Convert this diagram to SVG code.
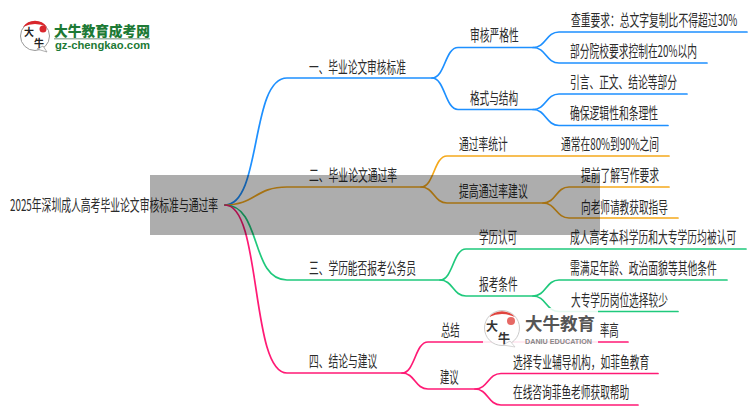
<svg xmlns="http://www.w3.org/2000/svg" width="750" height="410" viewBox="0 0 750 410">
<defs><style>
text{font-family:"Noto Sans CJK SC","Noto Sans",sans-serif;font-size:15.5px;fill:#2b2b2b}
.c{fill:none;stroke-width:1.7;stroke-linecap:round}
.b{stroke:#1e90ff}.o{stroke:#f5a91c}.g{stroke:#1fc97c}.p{stroke:#ff1a75}
</style></defs>
<rect width="750" height="410" fill="#fff"/>
<g id="connectors">
<path class="c b" d="M225 205C262 205 250 78 287 78H432C445 78 445 47.500 458 47.500H533C546 47.500 546 32 559 32H747"/>
<path class="c b" d="M533 47.500C546 47.500 546 63 559 63H707"/>
<path class="c b" d="M432 78C445 78 445 109.500 458 109.500H533C546 109.500 546 94 559 94H687"/>
<path class="c b" d="M533 109.500C546 109.500 546 125.500 559 125.500H668"/>
<path class="c o" d="M225 205C255 205 255 187 287 187H421C434 187 434 156 447 156H669"/>
<path class="c o" d="M421 187C434 187 434 203 447 203H543C556 203 556 187 569 187H669"/>
<path class="c o" d="M543 203C556 203 556 218 569 218H678"/>
<path class="c g" d="M225 205C262 205 250 280 287 280H440C453 280 453 249 466 249H746"/>
<path class="c g" d="M440 280C453 280 453 296 466 296H533C546 296 546 280 559 280H727"/>
<path class="c g" d="M533 296C546 296 546 311.500 559 311.500H678"/>
<path class="c p" d="M225 205C262 205 250 373 287 373H402C415 373 415 342 428 342H628"/>
<path class="c p" d="M402 373C415 373 415 389 428 389H475C488 389 488 373.500 501 373.500H658"/>
<path class="c p" d="M475 389C488 389 488 405 501 405H638"/>
</g>
<g id="root"><text transform="matrix(.625 0 0 1 10 210.500)" textLength="333" lengthAdjust="spacingAndGlyphs">2025年深圳成人高考毕业论文审核标准与通过率</text></g>
<g id="n1"><text transform="matrix(.625 0 0 1 309 72.500)" textLength="155" lengthAdjust="spacingAndGlyphs">一、毕业论文审核标准</text></g>
<g id="n1a"><text transform="matrix(.625 0 0 1 470 40.500)" textLength="78" lengthAdjust="spacingAndGlyphs">审核严格性</text></g>
<g id="n1a1"><text transform="matrix(.625 0 0 1 571 25.500)" textLength="266" lengthAdjust="spacingAndGlyphs">查重要求：总文字复制比不得超过30%</text></g>
<g id="n1a2"><text transform="matrix(.625 0 0 1 570 56.500)" textLength="203" lengthAdjust="spacingAndGlyphs">部分院校要求控制在20%以内</text></g>
<g id="n1b"><text transform="matrix(.625 0 0 1 470 103.500)" textLength="77" lengthAdjust="spacingAndGlyphs">格式与结构</text></g>
<g id="n1b1"><text transform="matrix(.625 0 0 1 570 87.500)" textLength="171" lengthAdjust="spacingAndGlyphs">引言、正文、结论等部分</text></g>
<g id="n1b2"><text transform="matrix(.625 0 0 1 570 118.500)" textLength="141" lengthAdjust="spacingAndGlyphs">确保逻辑性和条理性</text></g>
<g id="n2"><text transform="matrix(.625 0 0 1 309 180.500)" textLength="141" lengthAdjust="spacingAndGlyphs">二、毕业论文通过率</text></g>
<g id="n2a"><text transform="matrix(.625 0 0 1 459 149.500)" textLength="78" lengthAdjust="spacingAndGlyphs">通过率统计</text></g>
<g id="n2a1"><text transform="matrix(.625 0 0 1 561 149.500)" textLength="157" lengthAdjust="spacingAndGlyphs">通常在80%到90%之间</text></g>
<g id="n2b"><text transform="matrix(.625 0 0 1 459 196.500)" textLength="110" lengthAdjust="spacingAndGlyphs">提高通过率建议</text></g>
<g id="n2b1"><text transform="matrix(.625 0 0 1 581 180.500)" textLength="125" lengthAdjust="spacingAndGlyphs">提前了解写作要求</text></g>
<g id="n2b2"><text transform="matrix(.625 0 0 1 581 212.500)" textLength="139" lengthAdjust="spacingAndGlyphs">向老师请教获取指导</text></g>
<g id="n3"><text transform="matrix(.625 0 0 1 309 273.500)" textLength="171" lengthAdjust="spacingAndGlyphs">三、学历能否报考公务员</text></g>
<g id="n3a"><text transform="matrix(.625 0 0 1 479 242.500)" textLength="61" lengthAdjust="spacingAndGlyphs">学历认可</text></g>
<g id="n3a1"><text transform="matrix(.625 0 0 1 570 242.500)" textLength="266" lengthAdjust="spacingAndGlyphs">成人高考本科学历和大专学历均被认可</text></g>
<g id="n3b"><text transform="matrix(.625 0 0 1 479 289.500)" textLength="62" lengthAdjust="spacingAndGlyphs">报考条件</text></g>
<g id="n3b1"><text transform="matrix(.625 0 0 1 570 273.500)" textLength="235" lengthAdjust="spacingAndGlyphs">需满足年龄、政治面貌等其他条件</text></g>
<g id="n4"><text transform="matrix(.625 0 0 1 309 366.500)" textLength="109" lengthAdjust="spacingAndGlyphs">四、结论与建议</text></g>
<g id="n4a"><text transform="matrix(.625 0 0 1 441 335.500)" textLength="30" lengthAdjust="spacingAndGlyphs">总结</text></g>
<g id="n4b"><text transform="matrix(.625 0 0 1 440 382.500)" textLength="30" lengthAdjust="spacingAndGlyphs">建议</text></g>
<g id="n4b1"><text transform="matrix(.625 0 0 1 513 367.500)" textLength="218" lengthAdjust="spacingAndGlyphs">选择专业辅导机构，如菲鱼教育</text></g>
<g id="n4b2"><text transform="matrix(.625 0 0 1 513 397.500)" textLength="186" lengthAdjust="spacingAndGlyphs">在线咨询菲鱼老师获取帮助</text></g>
<rect id="band" x="150" y="175" width="450" height="60" fill="#000" fill-opacity=".32"/>
<g id="logo-top">
<circle cx="35" cy="36" r="14.500" fill="#fff" stroke="#999" stroke-width="1"/>
<path d="M23 27A14.500 14.500 0 0 1 47 27Q35 21 23 27Z" fill="#d9262c"/>
<circle cx="43" cy="29" r="3.500" fill="#d9262c"/>
<path d="M37 49L47 52L43 46Z" fill="#fff" stroke="#999" stroke-width=".8"/>
<text x="24" y="36" style="font-size:10px;font-weight:700;fill:#222">大</text>
<text x="34" y="47" style="font-size:10px;font-weight:700;fill:#222">牛</text>
<text x="54" y="36" textLength="96" lengthAdjust="spacingAndGlyphs" style="font-size:14px;font-weight:900;fill:#1d7a35">大牛教育成考网</text>
<rect x="54" y="38" width="96" height="1.500" fill="#9fb5a5"/>
<text x="55" y="49" textLength="95" lengthAdjust="spacingAndGlyphs" style="font-family:'Liberation Sans',sans-serif;font-size:11px;font-weight:700;fill:#1d7a35">gz-chengkao.com</text>
</g>
<g id="logo-mark">
<rect x="483" y="308" width="115" height="38" fill="#fff" fill-opacity=".88"/>
<circle cx="502" cy="328" r="17.500" fill="#fff" fill-opacity=".8" stroke="#ccc" stroke-width="1"/>
<path d="M489 317A17.500 17.500 0 0 1 515 317Q502 311 489 317Z" fill="#e0443e"/>
<circle cx="511" cy="321" r="4" fill="#e0443e" fill-opacity=".8"/>
<path d="M503 345L515 347L510 341Z" fill="#fff" stroke="#ccc" stroke-width=".8"/>
<text x="486" y="331" style="font-size:12px;font-weight:700;fill:#333">大</text>
<text x="498" y="343" style="font-size:12px;font-weight:700;fill:#333">牛</text>
<text x="525" y="330" textLength="70" lengthAdjust="spacingAndGlyphs" style="font-size:17.500px;font-weight:700;fill:#555">大牛教育</text>
<text x="525" y="344" textLength="67" lengthAdjust="spacingAndGlyphs" style="font-family:'Liberation Sans',sans-serif;font-size:7px;font-weight:700;fill:#888">DANIU EDUCATION</text>
</g>
<g id="n3b2"><text transform="matrix(.625 0 0 1 571 305.500)" textLength="155" lengthAdjust="spacingAndGlyphs">大专学历岗位选择较少</text></g>
<g id="n4a1"><text transform="matrix(.625 0 0 1 600 335.500)" textLength="30" lengthAdjust="spacingAndGlyphs">率高</text></g>
</svg>
